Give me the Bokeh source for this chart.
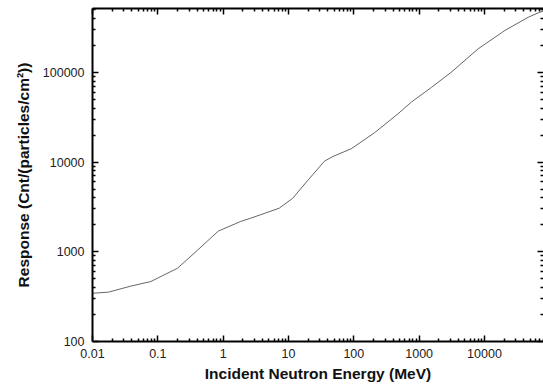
from bokeh.plotting import figure
from bokeh.models import LogAxis, FixedTicker, CustomJSTickFormatter, Range1d
from bokeh.embed import file_html
from bokeh.resources import INLINE

# Data
energy_mev = [0.01, 0.0176, 0.038, 0.078, 0.2, 0.40, 0.84, 1.86, 2.65, 7.2, 11.6,
              19.7, 35.5, 47.7, 91, 207, 474, 759, 1540, 3110, 8000, 20500,
              46800, 66700, 80000]
response = [345, 355, 413, 466, 656, 1033, 1700, 2180, 2370, 3060, 3950,
            6240, 10230, 11530, 14060, 21200, 34500, 46600, 68000, 100500,
            183000, 293000, 412000, 461000, 485000]

x_major = [0.01, 0.1, 1, 10, 100, 1000, 10000, 100000]
y_major = [100, 1000, 10000, 100000, 1000000]

x_minor = [m * k for m in x_major for k in range(2, 10)]
y_minor = [m * k for m in y_major for k in range(2, 10)]

FONT = "Liberation Sans"

p = figure(width=543, height=385, x_axis_type="log", y_axis_type="log",
           x_range=Range1d(0.01, 80000), y_range=Range1d(100, 515000),
           output_backend="svg", toolbar_location=None,
           min_border_left=92, min_border_right=0, min_border_top=8,
           min_border_bottom=44)
p.outline_line_color = None
p.xgrid.visible = False
p.ygrid.visible = False
p.background_fill_color = "white"
p.border_fill_color = "white"

fmt = CustomJSTickFormatter(code="return tick.toString();")
blank = CustomJSTickFormatter(code="return '';")

def style(ax, ticks, minors, labels=True, line=True):
    ax.ticker = FixedTicker(ticks=ticks, minor_ticks=minors)
    ax.axis_line_width = 2
    ax.axis_line_color = "black" if line else None
    ax.major_tick_in = 6
    ax.major_tick_out = 0
    ax.minor_tick_in = 3
    ax.minor_tick_out = 0
    ax.major_tick_line_width = 1.5
    ax.minor_tick_line_width = 1.5
    ax.major_tick_line_color = "black"
    ax.minor_tick_line_color = "black"
    if labels:
        ax.formatter = fmt
        ax.major_label_text_font = FONT
        ax.major_label_text_font_size = "12.5px"
        ax.major_label_text_color = "#222222"
    else:
        ax.formatter = blank
        ax.major_label_text_font_size = "1px"
        ax.major_label_text_color = None
        ax.major_label_standoff = 0

xa = p.xaxis[0]
style(xa, x_major, x_minor)
xa.major_label_standoff = 7
xa.axis_label = "Incident Neutron Energy (MeV)"
xa.axis_label_text_font = FONT
xa.axis_label_text_font_size = "15.5px"
xa.axis_label_text_font_style = "bold"
xa.axis_label_text_color = "#111111"
xa.axis_label_standoff = 4

ya = p.yaxis[0]
style(ya, y_major, y_minor)
ya.major_label_standoff = 8
ya.axis_label = "Response (Cnt/(particles/cm²))"
ya.axis_label_text_font = FONT
ya.axis_label_text_font_size = "15.5px"
ya.axis_label_text_font_style = "bold"
ya.axis_label_text_color = "#111111"
ya.axis_label_standoff = 8

top = LogAxis()
style(top, x_major, x_minor, labels=False)
p.add_layout(top, "above")

right = LogAxis()
style(right, y_major, y_minor, labels=False, line=False)
p.add_layout(right, "right")

p.line(energy_mev, response, line_color="#666666", line_width=1)

open("out.html", "w").write(file_html(p, INLINE))
